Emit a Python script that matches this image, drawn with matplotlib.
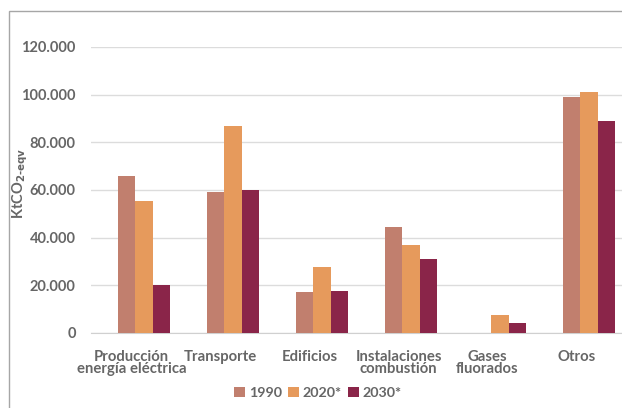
import numpy as np
import matplotlib
matplotlib.use('Agg')
import matplotlib.pyplot as plt
from matplotlib.patches import Rectangle

# Datos
categorias = ['Producción\nenergía eléctrica', 'Transporte', 'Edificios',
              'Instalaciones\ncombustión', 'Gases\nfluorados', 'Otros']
v1990 = [66000, 59000, 17000, 44500, 0, 99000]
v2020 = [55500, 87000, 27500, 37000, 7500, 101000]
v2030 = [20000, 60000, 17500, 31000, 4300, 89000]
series = ['1990', '2020*', '2030*']
colores = ['#C17F6E', '#E69A5C', '#8A2549']

plt.rcParams['font.family'] = ['Lato', 'DejaVu Sans']
plt.rcParams['font.weight'] = 'bold'
gris = '#666666'

fig = plt.figure(figsize=(6.22, 4.08), dpi=100)
ax = fig.add_axes([91 / 622, 75 / 408, 531 / 622, 286 / 408])

x = np.arange(len(categorias))
w = 0.195
for i, (vals, nombre, c) in enumerate(zip([v1990, v2020, v2030], series, colores)):
    ax.bar(x + (i - 1) * w, vals, width=w, color=c, label=nombre, zorder=3)

ax.set_xlim(-0.595, 5.371)
ax.set_ylim(0, 120000)
ax.set_yticks(np.arange(0, 120001, 20000))
ax.set_yticklabels(['0', '20.000', '40.000', '60.000', '80.000', '100.000', '120.000'])
ax.yaxis.grid(True, color='#dcdcdc', linewidth=1, zorder=0)
ax.tick_params(axis='y', length=0, pad=11, labelsize=10.5, labelcolor=gris)
ax.tick_params(axis='x', length=0, pad=12, labelsize=10.7, labelcolor=gris)
# las etiquetas del original quedan algo a la izquierda de las barras
ax.set_xticks(x - 0.14)
ax.set_xticklabels(categorias, linespacing=0.85)
for s in ['top', 'right', 'left']:
    ax.spines[s].set_visible(False)
ax.spines['bottom'].set_color('#d0d0d0')

fig.text(20 / 622, 1 - 183 / 408, 'KtCO$_{\\text{2-eqv}}$', rotation=90,
         ha='center', va='center', fontsize=10.5, color=gris, fontweight='bold')

fig.legend(loc='center', bbox_to_anchor=(318 / 622, 1 - 393 / 408), ncol=3,
           frameon=False, fontsize=10.3, handlelength=0.75, handleheight=0.75,
           handletextpad=0.25, columnspacing=0.45, labelcolor=gris)

# marco exterior
fig.patches.append(Rectangle((9 / 622, -0.1), 1.2, 1 - 11 / 408 + 0.1,
                             transform=fig.transFigure, fill=False,
                             edgecolor='#a6a6a6', linewidth=1))

fig.savefig('out.png', dpi=100)
